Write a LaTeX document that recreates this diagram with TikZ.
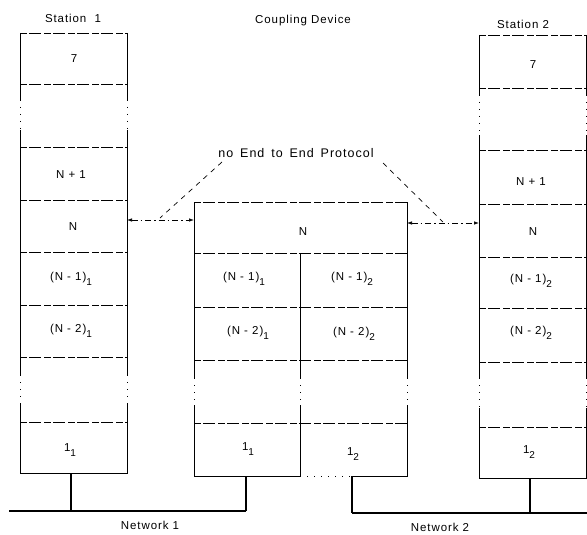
\documentclass[tikz,border=0pt]{standalone}
\usepackage{fontspec}
\setmainfont{Liberation Sans}[LetterSpace=8]
\usetikzlibrary{arrows.meta}
\newcommand\lsub[1]{\raisebox{-0.4em}{\fontsize{10}{10}\selectfont #1}}
\newcommand\wsp{\hspace{0.55em}}
\tikzset{
  lbl/.style={font=\fontsize{11.5}{13}\selectfont, inner sep=0pt},
  edge/.style={line width=0.9pt},
  divl/.style={line width=0.8pt, dash pattern=on 7pt off 2pt on 12pt off 3pt},
  gapl/.style={line width=0.5pt, dash pattern=on 1pt off 6pt},
  netl/.style={line width=1.3pt},
  stub/.style={line width=2pt},
  arr/.style={line width=0.7pt, dash pattern=on 6pt off 3pt on 1.5pt off 3pt,
    {Latex[length=5pt,width=3.5pt]}-{Latex[length=5pt,width=3.5pt]}},
  diag/.style={line width=0.7pt, dash pattern=on 5pt off 5pt}
}
\begin{document}
\begin{tikzpicture}[x=1pt,y=-1pt]
\useasboundingbox (0,0) rectangle (587,535);

% ---------- Station 1 ----------
\draw[divl] (20,33) -- (127,33);
\draw[edge] (20,33) -- (20,100) (127,33) -- (127,100);
\draw[gapl] (20,100) -- (20,130) (127,100) -- (127,130);
\draw[edge] (20,130) -- (20,375) (127,130) -- (127,375);
\draw[gapl] (20,375) -- (20,403) (127,375) -- (127,403);
\draw[edge] (20,403) -- (20,473) -- (127,473) -- (127,403);
\foreach \y in {84,147,200,252,305,357,422} \draw[divl] (20,\y) -- (127,\y);
\node[lbl] (s1a) at (74,59) {7};
\node[lbl] (s1b) at (71,175) {N + 1};
\node[lbl] (s1c) at (73,227) {N};
\node[lbl] (s1d) at (71,279) {(N - 1)\lsub{1}};
\node[lbl] (s1e) at (71,331) {(N - 2)\lsub{1}};
\node[lbl] (s1f) at (70,450) {1\lsub{1}};

% ---------- Coupling device ----------
\draw[divl] (194,202) -- (407,202);
\draw[edge] (194,202) -- (194,378) (407,202) -- (407,378) (300,253) -- (300,378);
\draw[gapl] (194,378) -- (194,405) (407,378) -- (407,405) (300,378) -- (300,405);
\draw[edge] (194,405) -- (194,476) -- (300,476) (352,476) -- (407,476) -- (407,405) (300,405) -- (300,476);
\draw[gapl] (300,476) -- (352,476);
\foreach \y in {253,307,360,423} \draw[divl] (194,\y) -- (407,\y);
\node[lbl] (cN) at (303,232) {N};
\node[lbl] (c1a) at (244,279) {(N - 1)\lsub{1}};
\node[lbl] (c1b) at (352,279) {(N - 1)\lsub{2}};
\node[lbl] (c2a) at (248,333) {(N - 2)\lsub{1}};
\node[lbl] (c2b) at (354,334) {(N - 2)\lsub{2}};
\node[lbl] (c3a) at (248,449) {1\lsub{1}};
\node[lbl] (c3b) at (353,454) {1\lsub{2}};

% ---------- Station 2 ----------
\draw[divl] (479,35) -- (587,35);
\draw[edge] (479,35) -- (479,95) (586,35) -- (586,95);
\draw[gapl] (479,95) -- (479,135) (586,95) -- (586,135);
\draw[edge] (479,135) -- (479,378) (586,135) -- (586,378);
\draw[gapl] (479,378) -- (479,408) (586,378) -- (586,408);
\draw[edge] (479,408) -- (479,478) -- (586,478) -- (586,408);
\foreach \y in {88,150,204,257,308,362,427} \draw[divl] (479,\y) -- (586,\y);
\node[lbl] (s2a) at (533,65) {7};
\node[lbl] (s2b) at (531,182) {N + 1};
\node[lbl] (s2c) at (533,232) {N};
\node[lbl] (s2d) at (531,281) {(N - 1)\lsub{2}};
\node[lbl] (s2e) at (531,333) {(N - 2)\lsub{2}};
\node[lbl] (s2f) at (529,452) {1\lsub{2}};

% ---------- Titles ----------
\node[lbl] (t1) at (73,18) {Station\ \ 1};
\node[lbl] (t2) at (303,21) {Coupling Device};
\node[lbl] (t3) at (523,24) {Station 2};
\node[lbl, font=\fontsize{12.5}{14}\selectfont] (prot) at (296,153) {no\wsp End\wsp to\wsp End\wsp Protocol};
\node[lbl] (n1) at (150,525) {Network 1};
\node[lbl] (n2) at (440,527) {Network 2};

% ---------- Protocol arrows ----------
\coordinate (s1r) at (127,220);
\coordinate (cl) at (194,220);
\coordinate (cr) at (407,223);
\coordinate (s2l) at (479,223);
\draw[arr] (s1r) -- (cl);
\draw[arr] (cr) -- (s2l);
\coordinate (pl) at (222,162);
\coordinate (pr) at (383,163);
\coordinate (ml) at (160,218);
\coordinate (mr) at (443,222);
\draw[diag] (pl) -- (ml);
\draw[diag] (pr) -- (mr);

% ---------- Networks ----------
\coordinate (s1b0) at (71,473);
\coordinate (s1b1) at (71,511);
\coordinate (n1a) at (9,511);
\coordinate (n1b) at (246,511);
\coordinate (cb1) at (246,476);
\coordinate (cb2) at (352,476);
\coordinate (n2a) at (352,513);
\coordinate (n2b) at (587,513);
\coordinate (s2b0) at (530,478);
\coordinate (s2b1) at (530,513);
\draw[netl] (n1a) -- (n1b);
\draw[stub] (s1b0) -- (s1b1);
\draw[stub] (n1b) -- (cb1);
\draw[netl] (n2a) -- (n2b);
\draw[stub] (cb2) -- (n2a);
\draw[stub] (s2b0) -- (s2b1);
\end{tikzpicture}
\end{document}
